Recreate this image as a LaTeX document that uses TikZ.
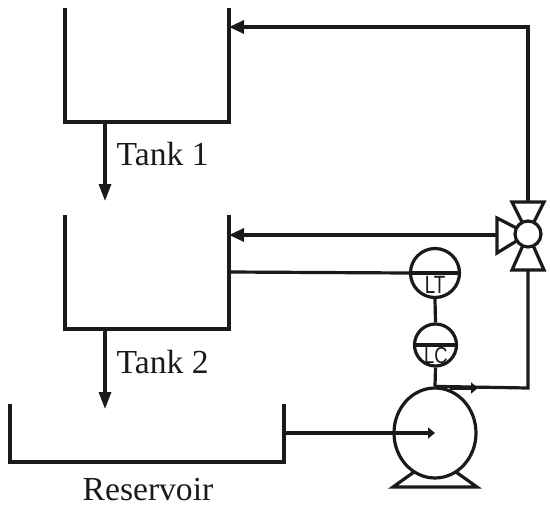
\documentclass[tikz,border=0pt]{standalone}
\usepackage{fontspec}
\setmainfont{Liberation Serif}
\newfontfamily\instfont{Liberation Sans}
\usetikzlibrary{arrows.meta,shapes.geometric}
\definecolor{ink}{HTML}{1A1A1A}
\tikzset{
  pipe/.style={draw=ink,line width=3.2pt},
  flow/.style={pipe,-{Triangle[length=15pt,width=13pt]}},
  bigflow/.style={pipe,-{Triangle[length=17pt,width=12pt]}},
  smallflow/.style={pipe,-{Triangle[length=7pt,width=11pt]}},
  sym/.style={circle,draw=ink,line width=3.2pt,inner sep=0pt,fill=white},
  lbl/.style={font=\fontsize{33.6}{34}\selectfont,text=ink,inner sep=0pt},
  inst/.style={font=\instfont\fontsize{25}{25}\selectfont,text=ink,inner sep=0pt,xscale=.75},
  instb/.style={font=\instfont\fontsize{23}{23}\selectfont,text=ink,inner sep=0pt,xscale=.8}
}
\begin{document}
\begin{tikzpicture}[x=1pt,y=-1pt]
\useasboundingbox (0,0) rectangle (550,509);
% tanks
\draw[pipe] (65,8) -- (65,122) -- (229,122) -- (229,8);
\draw[pipe] (65,215) -- (65,329) -- (229,329) -- (229,215);
\draw[pipe] (10,404) -- (10,462) -- (284,462) -- (284,404);
\coordinate (t1out) at (105,122);
\coordinate (t1end) at (105,201);
\coordinate (t2out) at (105,329);
\coordinate (t2end) at (105,409);
\coordinate (t1in) at (229,27);
\coordinate (t2in) at (229,235);
\coordinate (t2lvl) at (229,272);
\coordinate (resout) at (284,433);
\coordinate (corner1) at (528,27);
\coordinate (corner2) at (528,388);
\coordinate (tick) at (450,388);
\coordinate (tickend) at (478,388);
\draw[bigflow] (t1out) -- (t1end);
\draw[bigflow] (t2out) -- (t2end);
\node[lbl,anchor=base west] (tank1) at (116.5,165) {Tank 1};
\node[lbl,anchor=base west] (tank2) at (116.5,373) {Tank 2};
\node[lbl,anchor=base] (res) at (148,500) {Reservoir};
% pump
\draw[pipe,line join=miter] (414,472) -- (393,487) -- (477,487) -- (456,472);
\node[ellipse,draw=ink,line width=3.2pt,inner sep=0pt,fill=white,minimum width=82pt,minimum height=90pt] (pump) at (435,433) {};
\coordinate (pumpc) at (435,433);
\draw[smallflow] (resout) -- (pumpc);
% valve
\draw[pipe,line join=miter] (512,202) -- (544,202) -- (528,234) -- cycle;
\draw[pipe,line join=miter] (512,270) -- (544,270) -- (528,234) -- cycle;
\draw[pipe,line join=miter] (497,218) -- (497,253) -- (528,234) -- cycle;
\node[sym,minimum size=26pt] (valve) at (528,234) {};
\coordinate (vtop) at (528,202);
\coordinate (vbot) at (528,270);
\coordinate (vleft) at (497,235);
% instruments
\node[sym,minimum size=49pt] (LT) at (435,273) {};
\node[sym,minimum size=42pt] (LC) at (435.5,345) {};
\draw[pipe] (LT.west) -- (LT.east);
\draw[pipe] (LC.west) -- (LC.east);
\node[inst,anchor=base] (lttext) at (435,293) {LT};
\node[instb,anchor=base] (lctext) at (436,363) {LC};
% connectors
\draw[flow] (vtop) -- (corner1) -- (t1in);
\draw[flow] (vleft) -- (t2in);
\draw[pipe] (t2lvl) -- (LT.west);
\draw[pipe] (LT.south) -- (LC.north);
\draw[pipe] (LC.south) -- (pump.north);
\draw[pipe] (pump.north) -- (corner2) -- (vbot);
\draw[smallflow] (tick) -- (tickend);
\end{tikzpicture}
\end{document}
